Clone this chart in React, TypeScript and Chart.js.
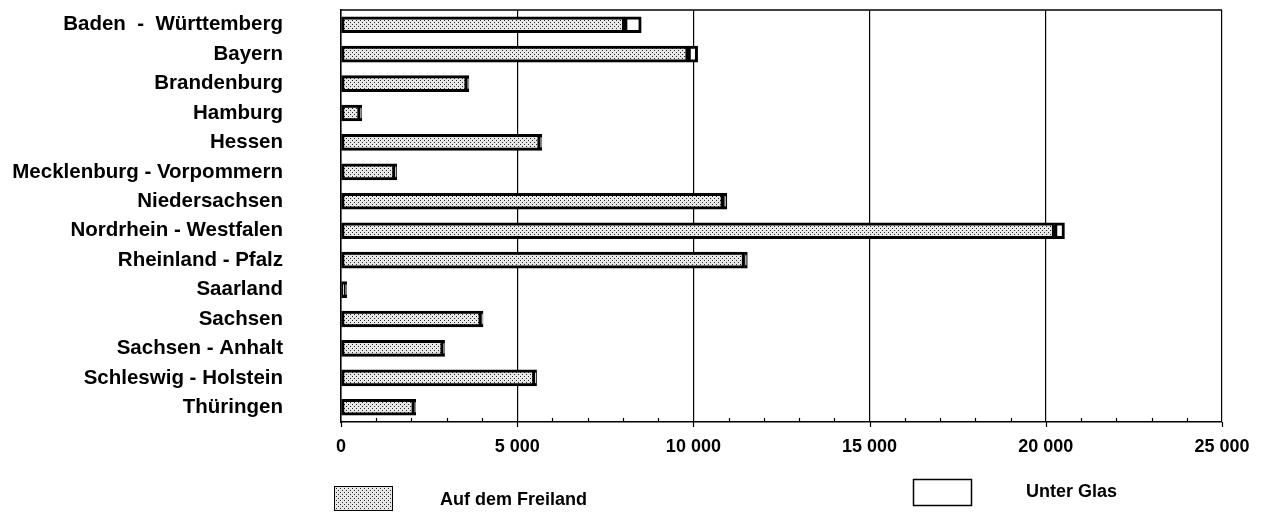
import React, { useEffect, useRef } from 'react';
import { Chart, registerables } from 'chart.js';

Chart.register(...registerables);

const categories = [
  'Baden  -  Württemberg',
  'Bayern',
  'Brandenburg',
  'Hamburg',
  'Hessen',
  'Mecklenburg - Vorpommern',
  'Niedersachsen',
  'Nordrhein - Westfalen',
  'Rheinland - Pfalz',
  'Saarland',
  'Sachsen',
  'Sachsen - Anhalt',
  'Schleswig - Holstein',
  'Thüringen',
];
const freiland = [8050, 9850, 3580, 540, 5650, 1530, 10850, 20250, 11450, 120, 3980, 2900, 5500, 2080];
const unterGlas = [470, 270, 50, 50, 50, 50, 100, 280, 80, 40, 50, 40, 50, 40];
const seriesNames = ['Auf dem Freiland', 'Unter Glas'];
const xTickValues = [0, 5000, 10000, 15000, 20000, 25000];
const xTickLabels = ['0', '5 000', '10 000', '15 000', '20 000', '25 000'];
const xMinorStep = 1000;

const FONT = '"Liberation Sans", Arial, Helvetica, sans-serif';

function makePattern(): CanvasPattern | string {
  const c = document.createElement('canvas');
  c.width = 4;
  c.height = 4;
  const g = c.getContext('2d');
  if (!g) return '#d0d0d0';
  g.fillStyle = '#e8e8e8';
  g.fillRect(0, 0, 4, 4);
  g.fillStyle = '#2a2a2a';
  g.fillRect(0, 0, 1, 1);
  g.fillRect(2, 2, 1, 1);
  const p = g.createPattern(c, 'repeat');
  return p || '#d0d0d0';
}

export default function App() {
  const ref = useRef<HTMLCanvasElement | null>(null);

  useEffect(() => {
    const canvas = ref.current;
    if (!canvas) return;
    const pattern = makePattern();

    const framePlugin = {
      id: 'frame',
      afterDraw(chart: any) {
        const { ctx, chartArea } = chart;
        const xs = chart.scales.x;
        ctx.save();
        ctx.strokeStyle = '#000';
        ctx.lineWidth = 1.5;
        ctx.beginPath();
        ctx.moveTo(chartArea.left, chartArea.top);
        ctx.lineTo(chartArea.right, chartArea.top);
        ctx.stroke();
        ctx.lineWidth = 1.2;
        for (let v = xs.min; v <= xs.max; v += xMinorStep) {
          const px = Math.round(xs.getPixelForValue(v)) + 0.5;
          ctx.beginPath();
          if (xTickValues.includes(v)) {
            ctx.moveTo(px, chartArea.bottom);
            ctx.lineTo(px, chartArea.bottom + 5);
          } else {
            ctx.moveTo(px, chartArea.bottom - 4);
            ctx.lineTo(px, chartArea.bottom);
          }
          ctx.stroke();
        }
        ctx.restore();
      },
    };

    const legendPlugin = {
      id: 'customLegend',
      afterDraw(chart: any) {
        const { ctx } = chart;
        const items = [
          { box: [334, 486, 58, 24], tx: 440, ty: 500, fill: pattern, lw: 1 },
          { box: [913, 479, 58, 26], tx: 1026, ty: 492, fill: '#ffffff', lw: 1.5 },
        ];
        ctx.save();
        chart.data.datasets.forEach((ds: any, i: number) => {
          const it = items[i];
          const [bx, by, bw, bh] = it.box;
          ctx.fillStyle = it.fill;
          ctx.fillRect(bx, by, bw, bh);
          ctx.strokeStyle = '#000';
          ctx.lineWidth = it.lw;
          ctx.strokeRect(bx + 0.5, by + 0.5, bw, bh);
          ctx.fillStyle = '#000';
          ctx.font = `bold 18px ${FONT}`;
          ctx.textAlign = 'left';
          ctx.textBaseline = 'middle';
          ctx.fillText(ds.label, it.tx, it.ty);
        });
        ctx.restore();
      },
    };

    const chart = new Chart(canvas, {
      type: 'bar',
      data: {
        labels: categories,
        datasets: [
          {
            label: seriesNames[0],
            data: freiland,
            backgroundColor: pattern as any,
            borderColor: '#000',
            borderWidth: 3,
            borderSkipped: false,
            barThickness: 16,
          },
          {
            label: seriesNames[1],
            data: unterGlas,
            backgroundColor: '#ffffff',
            borderColor: '#000',
            borderWidth: 3,
            borderSkipped: false,
            barThickness: 16,
          },
        ],
      },
      options: {
        indexAxis: 'y',
        responsive: false,
        animation: false,
        layout: { padding: { top: 10, right: 49, bottom: 0, left: 0 } },
        font: { family: FONT },
        plugins: {
          legend: { display: false },
          tooltip: { enabled: false },
        },
        scales: {
          x: {
            stacked: true,
            min: 0,
            max: 25000,
            afterBuildTicks: (s: any) => {
              s.ticks = xTickValues.map((v) => ({ value: v }));
            },
            afterFit: (s: any) => {
              s.height = 92;
            },
            ticks: {
              callback: (v: any) => {
                const i = xTickValues.indexOf(Number(v));
                return i >= 0 ? xTickLabels[i] : '';
              },
              padding: 14,
              color: '#000',
              font: { family: FONT, size: 18, weight: 'bold' },
              maxRotation: 0,
              autoSkip: false,
            },
            grid: { color: '#000', lineWidth: 1.2, drawTicks: false },
            border: { color: '#000', width: 1.5 },
          },
          y: {
            stacked: true,
            afterFit: (s: any) => {
              s.width = 341;
              s.paddingTop = 0;
              s.paddingBottom = 0;
            },
            ticks: {
              color: '#000',
              padding: 58,
              font: { family: FONT, size: 20.5, weight: 'bold' },
              autoSkip: false,
            },
            grid: { display: false, drawTicks: false },
            border: { color: '#000', width: 1.5 },
          },
        },
      } as any,
      plugins: [framePlugin, legendPlugin],
    });

    return () => chart.destroy();
  }, []);

  return (
    <div style={{ position: 'fixed', left: 0, top: 0, width: 1271, height: 514, background: '#fff' }}>
      <canvas ref={ref} width={1271} height={514} style={{ display: 'block' }} />
    </div>
  );
}
